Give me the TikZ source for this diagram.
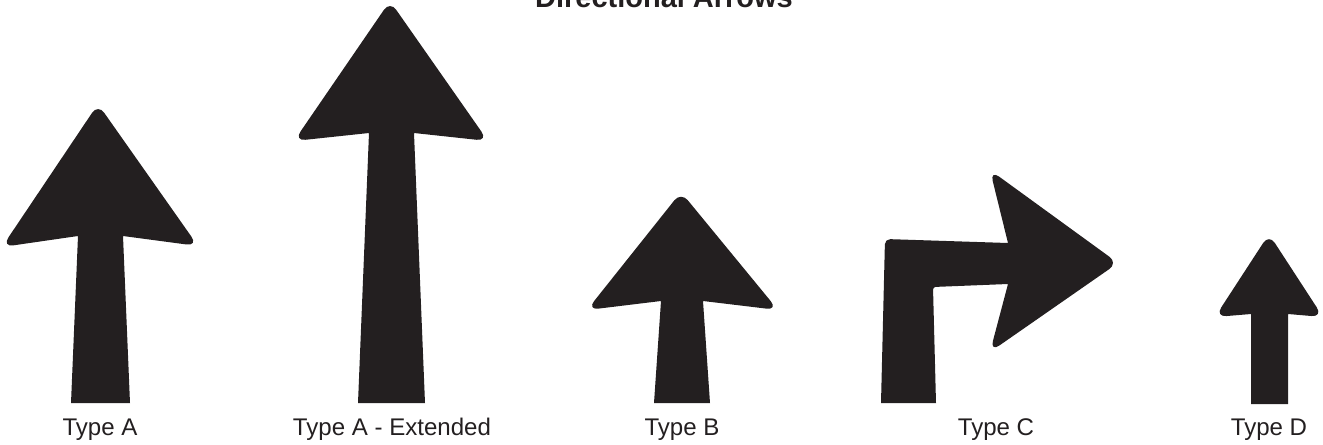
\documentclass[tikz,border=0pt]{standalone}
\usepackage{fontspec}
\setmainfont{Liberation Sans}
\usetikzlibrary{positioning}
\definecolor{inkblack}{RGB}{35,31,32}

\begin{document}
\begin{tikzpicture}[
  x=0.02cm, y=0.02cm,
  arrowfill/.style={fill=inkblack, draw=none},
  tipround/.style={rounded corners=6pt},
  barbround/.style={rounded corners=6.5pt},
  lab/.style={font=\fontsize{13.7}{16}\selectfont, anchor=base, inner sep=0pt, text=inkblack},
  ttl/.style={font=\fontsize{16.5}{19}\selectfont\bfseries, anchor=base, inner sep=0pt, text=inkblack}
]
\useasboundingbox (0,0) rectangle (1323,444);
% ----- title (cut by the page edge) -----
\node[ttl] (title) at (664,437) {Directional Arrows};
% ----- Type A -----
\fill[arrowfill] (71,41) -- (78,208) [barbround] -- (2,197) [tipround] -- (98,340) [barbround] -- (198,198)
  [sharp corners] -- (123,208) -- (130,41) -- cycle;
\node[lab] (labA) at (100,9) {Type A};
% ----- Type A - Extended -----
\fill[arrowfill] (358,41) -- (369,311) [barbround] -- (294,303) [tipround] -- (390,443) [barbround] -- (488,303)
  [sharp corners] -- (414,311) -- (425,41) -- cycle;
\node[lab] (labAx) at (392,9) {Type A - Extended};
% ----- Type B -----
\fill[arrowfill] (654,41) -- (661,143) [barbround] -- (587,134) [tipround] -- (681,252) [barbround] -- (778,134)
  [sharp corners] -- (703,143) -- (710,41) -- cycle;
\node[lab] (labB) at (682,9) {Type B};
% ----- Type C (turn right) -----
\fill[arrowfill] (881,41) [rounded corners=3pt] -- (885,205) [sharp corners] -- (1008,201) [barbround] -- (990,274)
  [tipround] -- (1118,181) [barbround] -- (990,92) [sharp corners] -- (1008,160)
  [rounded corners=1.5pt] -- (933,157) [sharp corners] -- (936,41) -- cycle;
\node[lab] (labC) at (996,9) {Type C};
% ----- Type D -----
\fill[arrowfill] (1251,40) -- (1251,130) [barbround] -- (1215,127) [tipround] -- (1269,210) [barbround] -- (1323,127)
  [sharp corners] -- (1288,130) -- (1288,40) -- cycle;
\node[lab] (labD) at (1269,9) {Type D};
\end{tikzpicture}
\end{document}
